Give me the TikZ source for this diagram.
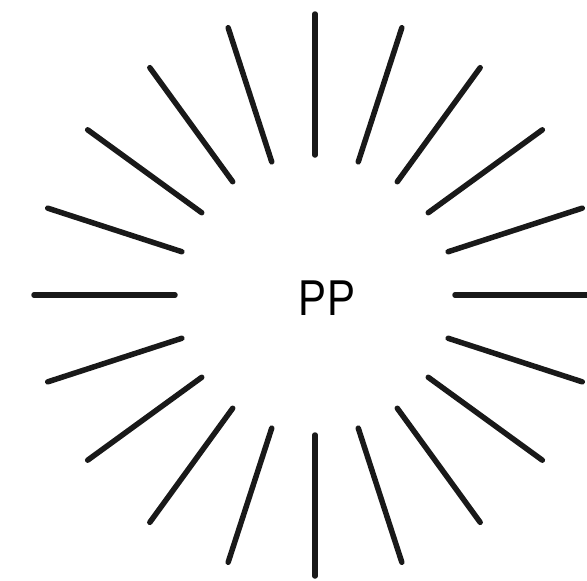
\documentclass[tikz,border=0pt]{standalone}
\usepackage{fontspec}
\setmainfont{Liberation Sans}
\usetikzlibrary{calc}
\tikzset{ray/.style={line width=5.5pt, line cap=round, black!90}}
\begin{document}
\begin{tikzpicture}[x=1pt,y=-1pt]
\useasboundingbox (0,0) rectangle (587,581);
\coordinate (c) at (315,295);
\foreach \a in {0,18,...,342}{
  \draw[ray] ($(c)+(\a:140)$) -- ($(c)+(\a:281)$);
}
\node[font=\fontsize{42}{42}\selectfont, yscale=1.2, inner sep=0pt] (t) at (327,298) {PP};
\end{tikzpicture}
\end{document}
